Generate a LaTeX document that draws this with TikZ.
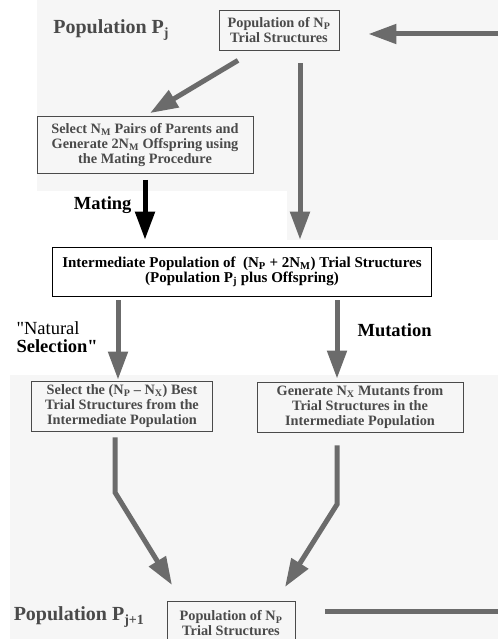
\documentclass[tikz,border=0pt]{standalone}
\usepackage{fontspec}
\setmainfont{Liberation Serif}
\usetikzlibrary{arrows.meta,
                positioning}
\definecolor{scangray}{HTML}{F6F6F6}
\definecolor{inkgray}{HTML}{4A4A4A}
\definecolor{arrowgray}{HTML}{6B6B6B}
\tikzset{block/.style=
   {rectangle,
    draw=inkgray,
    text=inkgray,
    align=center,
    font=\bfseries\fontsize{14.3}{15}\selectfont,
    line width=0.8pt,
    inner sep=2pt}}
\tikzset{mainblock/.style=
   {block,
    draw=black,
    text=black,
    font=\bfseries\fontsize{15}{15}\selectfont,
    line width=1.6pt}}
\tikzset{caption/.style =
   {font=\bfseries\fontsize{20}{22}\selectfont,
    text=inkgray}}
\tikzset{steplabel/.style =
   {font=\bfseries\fontsize{18.5}{18}\selectfont,
    align=left}}
\tikzset{arrow/.style = {draw=arrowgray, line width=5pt, -{Triangle[length=28pt,width=19pt]}}}
\tikzset{feedback/.style = {draw=arrowgray, line width=5pt}}

\begin{document}
\begin{tikzpicture}[x=1pt, y=-1pt]
    \useasboundingbox (0,0) rectangle (498,639);
    % scanned page background
    \fill[scangray] (37,0) rectangle (498,191);
    \fill[scangray] (287,191) rectangle (498,240);
    \fill[scangray] (10,375) rectangle (498,639);

    \node [block,
           minimum width=120pt,
           minimum height=40pt] (popj) at (279,30)
    {Population of N\textsubscript{P}\\Trial Structures};

    \node [block,
           minimum width=216pt,
           minimum height=57pt] (mating) at (145,145)
    {Select N\textsubscript{M} Pairs of Parents and\\
     Generate 2N\textsubscript{M} Offspring using\\
     the Mating Procedure};

    \node [mainblock,
           minimum width=379pt,
           minimum height=49pt] (inter) at (242,272)
    {Intermediate Population of \ (N\textsubscript{P} + 2N\textsubscript{M}) Trial Structures\\
     (Population P\textsubscript{j} plus Offspring)};

    \node [block,
           minimum width=181pt,
           minimum height=50pt] (best) at (122,406)
    {Select the (N\textsubscript{P} -- N\textsubscript{X}) Best\\
     Trial Structures from the\\
     Intermediate Population};

    \node [block,
           minimum width=206pt,
           minimum height=50pt] (mutants) at (360,407)
    {Generate N\textsubscript{X} Mutants from\\
     Trial Structures in the\\
     Intermediate Population};

    \node [block,
           minimum width=128pt,
           minimum height=44pt,
           anchor=north] (popjj) at (231,601)
    {Population of N\textsubscript{P}\\Trial Structures};

    % labels
    \node [caption, left=46pt of popj] (lblpj) {Population P\textsubscript{j}};
    \node [caption, anchor=east] (lblpjj) at (148,617) {Population P\textsubscript{j+1}};
    \node [steplabel, anchor=east] (lblmating) at (135,205) {Mating};
    \node [steplabel, anchor=west] (lblnatural) at (13,337)
    {\mdseries\textquotedbl Natural\\Selection\textquotedbl};
    \node [steplabel, anchor=west] (lblmutation) at (354,330) {Mutation};

    % connectors
    \coordinate (fbin) at (498,34);
    \coordinate (fbout) at (498,611);
    \draw [arrow, shorten >=29pt] (fbin) -- (fbin -| popj.east);
    \draw [arrow] ([xshift=-41pt,yshift=-10pt]popj.south) -- ([xshift=5pt,yshift=3pt]mating.north);
    \draw [arrow, shorten >=7pt] ([xshift=21pt,yshift=-13pt]popj.south) -- ([xshift=21pt]popj.south |- inter.north);
    \draw [arrow, draw=black, shorten <=6pt, shorten >=7pt] (mating.south) -- (mating.south |- inter.north);
    \draw [arrow, shorten <=3pt, shorten >=1pt] ([xshift=-4pt]best.north |- inter.south) -- ([xshift=-4pt]best.north);
    \draw [arrow, shorten <=3pt, shorten >=3pt] ([xshift=-23pt]mutants.north |- inter.south) -- ([xshift=-23pt]mutants.north);
    \draw [arrow] ([xshift=-7pt,yshift=-6pt]best.south) -- ++(0,55) -- ([xshift=-59pt,yshift=16pt]popjj.north);
    \draw [arrow] ([xshift=-23pt,yshift=-14pt]mutants.north |- best.south) -- ++(0,59) -- ([xshift=54pt,yshift=14pt]popjj.north);
    \draw [feedback] ([xshift=94pt]popjj.north |- fbout) -- (fbout);
\end{tikzpicture}
\end{document}
